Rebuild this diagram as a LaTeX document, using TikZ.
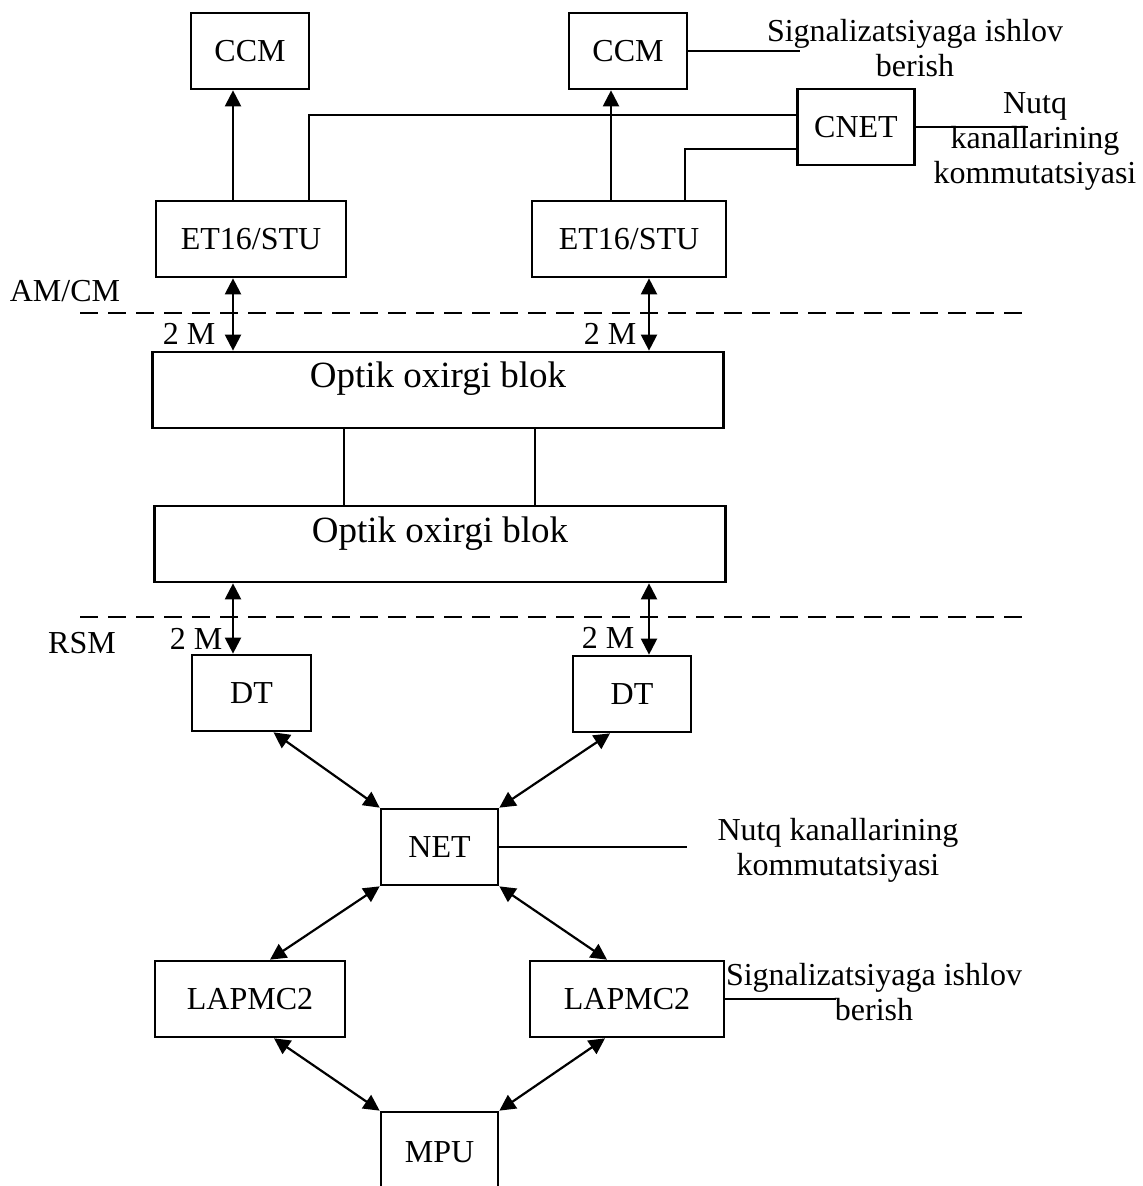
\documentclass[tikz,border=0pt]{standalone}
\usepackage{fontspec}
\setmainfont{Liberation Serif}
\usepackage{tikz}
\usetikzlibrary{arrows.meta,calc}

\begin{document}
\begin{tikzpicture}[x=0.5pt,y=-0.5pt,font=\fontsize{16}{17.5}\selectfont,
  blok/.style={draw,line width=1.35pt,inner sep=0pt,minimum width=#1,minimum height=38pt,
    text height=10.5pt,text depth=0pt},
  optik/.style={draw,line width=1.35pt,inner sep=0pt,minimum width=285.5pt,minimum height=38pt,
    font=\fontsize{18.5}{20}\selectfont,text height=13pt,text depth=15pt},
  link/.style={line width=1.1pt},
  uarr/.style={line width=1.1pt,-{Triangle[length=8pt,width=8pt]}},
  darr/.style={line width=1.1pt,{Triangle[length=8pt,width=8pt]}-{Triangle[length=8pt,width=8pt]}},
  divline/.style={line width=1.3pt,dash pattern=on 9pt off 5pt},
  note/.style={align=center,inner sep=0pt}]
  \useasboundingbox (0,0) rectangle (1143,1186);

  % columns for the vertical links
  \coordinate (colL) at (233,0);
  \coordinate (colRt) at (611,0);
  \coordinate (colRb) at (649,0);
  \coordinate (tapL) at (309,0);
  \coordinate (tapR) at (685,0);
  \coordinate (tapM1) at (344,0);
  \coordinate (tapM2) at (535,0);
  \coordinate (endA) at (800,0);
  \coordinate (endB) at (1028,0);
  \coordinate (endC) at (687,0);
  \coordinate (endD) at (836,0);

  % AM/CM side
  \node[blok=59pt] (ccmL) at (250,51) {CCM};
  \node[blok=59pt] (ccmR) at (628,51) {CCM};
  \node[blok=58.5pt] (cnet) at (856,127) {CNET};
  \node[blok=95pt] (etL) at (251,239) {ET16/STU};
  \node[blok=97pt] (etR) at (629,239) {ET16/STU};

  \draw[uarr] (etL.north -| colL) -- (ccmL.south -| colL);
  \draw[uarr] (etR.north -| colRt) -- (ccmR.south -| colRt);
  \draw[link] (etL.north -| tapL) |- ([yshift=6pt]cnet.west);
  \draw[link] (etR.north -| tapR) |- ([yshift=-11pt]cnet.west);
  \draw[link] (ccmR.east) -- (ccmR.east -| endA);
  \draw[link] (cnet.east) -- (cnet.east -| endB);

  \node[note,anchor=base] (sigA) at (915,77) {Signalizatsiyaga ishlov\\berish};
  \node[note,anchor=base] (nutqA) at (1035,184) {Nutq\\kanallarining\\kommutatsiyasi};

  \node[anchor=base] (amcm) at (65,302) {AM/CM};
  \draw[divline] (80,313) -- (1028,313);
  \node[anchor=base] (mA) at (189,345) {2 M};
  \node[anchor=base] (mB) at (610,345) {2 M};

  % optical link
  \node[optik] (opt1) at (438,390) {Optik oxirgi blok};
  \node[optik] (opt2) at (440,544) {Optik oxirgi blok};
  \draw[darr] (etL.south -| colL) -- (opt1.north -| colL);
  \draw[darr] (etR.south -| colRb) -- (opt1.north -| colRb);
  \draw[link] (opt1.south -| tapM1) -- (opt2.north -| tapM1);
  \draw[link] (opt1.south -| tapM2) -- (opt2.north -| tapM2);

  % RSM side
  \draw[divline] (80,617) -- (1028,617);
  \node[anchor=base] (rsm) at (82,653) {RSM};
  \node[anchor=base] (mC) at (196,649) {2 M};
  \node[anchor=base] (mD) at (608,648) {2 M};

  \node[blok=59.5pt] (dtL) at (251.5,693) {DT};
  \node[blok=59pt] (dtR) at (632,694) {DT};
  \node[blok=58.5pt] (net) at (439.5,847) {NET};
  \node[blok=95pt] (lapL) at (250,999) {LAPMC2};
  \node[blok=97pt] (lapR) at (627,999) {LAPMC2};
  \node[blok=58.5pt,minimum height=40pt] (mpu) at (439.5,1152) {MPU};

  \draw[darr] (opt2.south -| colL) -- (dtL.north -| colL);
  \draw[darr] (opt2.south -| colRb) -- (dtR.north -| colRb);
  \draw[darr] ($(dtL.south)+(22,0)$) -- (net.north west);
  \draw[darr] ($(dtR.south)+(-22,0)$) -- (net.north east);
  \draw[darr] (net.south west) -- ($(lapL.north)+(20,0)$);
  \draw[darr] (net.south east) -- ($(lapR.north)+(-20,0)$);
  \draw[darr] ($(lapL.south)+(24,0)$) -- (mpu.north west);
  \draw[darr] ($(lapR.south)+(-22,0)$) -- (mpu.north east);
  \draw[link] (net.east) -- (net.east -| endC);
  \draw[link] (lapR.east) -- (lapR.east -| endD);

  \node[note,anchor=base] (nutqB) at (838,875) {Nutq kanallarining\\kommutatsiyasi};
  \node[note,anchor=base] (sigB) at (874,1020) {Signalizatsiyaga ishlov\\berish};
\end{tikzpicture}
\end{document}
